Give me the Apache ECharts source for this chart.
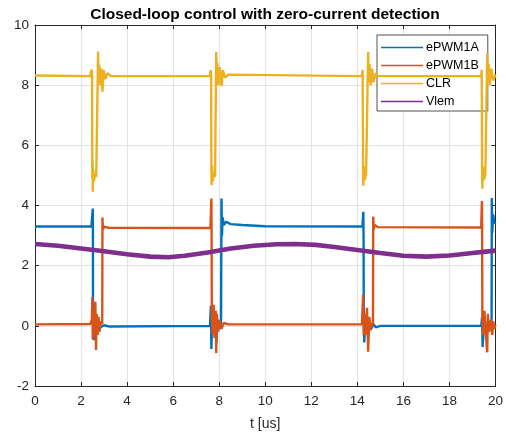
<!DOCTYPE html>
<html>
<head>
<meta charset="utf-8">
<script src="https://cdn.jsdelivr.net/npm/echarts@6/dist/echarts.min.js"></script>
<style>
  html, body { margin: 0; padding: 0; background: #fff; }
  #chart { width: 506px; height: 436px; }
</style>
</head>
<body>
<div id="chart"></div>
<script>
// Oscilloscope capture: time in microseconds, voltages in volts
const xTicks = [0, 2, 4, 6, 8, 10, 12, 14, 16, 18, 20];
const yTicks = [-2, 0, 2, 4, 6, 8, 10];
const seriesNames = ['ePWM1A', 'ePWM1B', 'CLR', 'Vlem'];

const ePWM1A = [
  [0, 3.30], [2.45, 3.30], [2.50, 3.34], [2.51, 3.90], [2.515, 3.20], [2.52, 0.20],
  [2.55, -0.48], [2.58, 0.35], [2.62, -0.30], [2.66, 0.20], [2.70, -0.15], [2.75, 0.10],
  [2.85, -0.05], [3.0, 0.02], [3.2, -0.02], [7.60, 0.0], [7.64, 0.67], [7.66, -0.77],
  [7.70, 0.30], [7.75, -0.20], [7.85, 0.30], [7.88, -0.55], [7.92, 0.15], [8.0, -0.10],
  [8.08, 0.0], [8.10, 4.23], [8.12, 3.00], [8.15, 3.60], [8.20, 3.35], [8.30, 3.46],
  [8.50, 3.38], [9.0, 3.35], [10.0, 3.31], [14.22, 3.30], [14.25, 3.35], [14.26, 3.79],
  [14.27, 3.00], [14.28, 0.30], [14.30, -0.55], [14.34, 0.30], [14.40, -0.20], [14.50, 0.15],
  [14.60, -0.10], [14.70, 0.05], [14.80, -0.05], [15.0, 0.0], [19.38, 0.0], [19.42, 0.30],
  [19.44, -0.70], [19.50, 0.20], [19.55, -0.20], [19.65, 0.10], [19.75, -0.10], [19.83, 0.0],
  [19.84, 4.25], [19.86, 3.10], [19.90, 3.70], [19.95, 3.40], [20, 3.45]
];

const ePWM1B = [
  [0, 0.05], [2.40, 0.06], [2.47, 0.20], [2.49, 0.96], [2.51, -0.45], [2.54, 0.50],
  [2.58, -0.30], [2.62, 0.80], [2.65, -0.80], [2.68, 0.40], [2.72, -0.30], [2.76, 0.30],
  [2.80, -0.20], [2.86, 0.15], [2.92, 0.05], [2.93, 3.60], [2.95, 3.20], [3.0, 3.30],
  [3.2, 3.26], [7.62, 3.25], [7.65, 3.30], [7.66, 4.23], [7.67, 3.00], [7.68, 0.30],
  [7.72, -0.30], [7.76, 0.70], [7.80, -0.40], [7.85, 0.50], [7.87, -0.90], [7.90, 0.40],
  [7.95, -0.20], [8.0, 0.20], [8.1, -0.10], [8.2, 0.10], [8.4, 0.05], [14.20, 0.05],
  [14.25, 1.04], [14.28, -0.30], [14.32, 0.40], [14.36, -0.30], [14.42, 0.60], [14.47, -0.86],
  [14.52, 0.30], [14.58, -0.15], [14.64, 0.10], [14.68, 0.02], [14.69, 3.63], [14.71, 3.20],
  [14.75, 3.35], [14.9, 3.28], [19.38, 3.27], [19.41, 4.15], [19.42, 3.00], [19.43, 0.30],
  [19.47, -0.30], [19.52, 0.50], [19.58, -0.30], [19.64, -0.88], [19.67, 0.40], [19.72, -0.20],
  [19.80, 0.20], [19.86, -0.30], [19.90, 0.15], [19.95, -0.10], [20, 0.05]
];

const CLR = [
  [0, 8.32], [2.40, 8.30], [2.46, 8.52], [2.48, 8.30], [2.49, 4.90], [2.50, 5.50],
  [2.51, 4.46], [2.53, 5.20], [2.56, 4.80], [2.60, 5.05], [2.66, 4.95], [2.72, 5.00],
  [2.74, 9.12], [2.76, 8.20], [2.79, 8.68], [2.83, 8.00], [2.88, 8.55], [2.93, 7.78],
  [2.98, 8.50], [3.05, 8.20], [3.15, 8.40], [3.3, 8.30], [7.60, 8.30], [7.63, 8.50],
  [7.65, 8.30], [7.66, 5.20], [7.67, 4.67], [7.69, 5.33], [7.72, 4.80], [7.76, 5.10],
  [7.82, 4.95], [7.86, 5.00], [7.87, 9.10], [7.89, 8.20], [7.92, 8.75], [7.96, 8.00],
  [8.02, 8.60], [8.10, 7.97], [8.16, 8.50], [8.25, 8.25], [8.4, 8.35], [14.20, 8.30],
  [14.23, 8.50], [14.25, 5.00], [14.26, 4.66], [14.28, 5.30], [14.32, 4.85], [14.38, 5.05],
  [14.46, 5.00], [14.47, 9.10], [14.49, 8.10], [14.53, 8.70], [14.58, 8.00], [14.64, 8.55],
  [14.70, 8.10], [14.8, 8.40], [14.9, 8.30], [19.38, 8.30], [19.40, 8.50], [19.42, 5.00],
  [19.43, 4.56], [19.45, 5.30], [19.50, 4.85], [19.56, 5.05], [19.63, 5.00], [19.64, 9.05],
  [19.66, 8.10], [19.70, 8.70], [19.75, 8.00], [19.82, 8.55], [19.90, 8.15], [20, 8.35]
];

const Vlem = [
  [0, 2.72], [1, 2.66], [2, 2.57], [3, 2.48], [4, 2.38], [5, 2.30], [5.8, 2.28],
  [6.5, 2.33], [7.5, 2.44], [8.5, 2.57], [9.5, 2.66], [10.5, 2.71], [11.3, 2.72],
  [12.2, 2.69], [13, 2.62], [14, 2.52], [15, 2.42], [16, 2.33], [17, 2.30], [18, 2.34],
  [19, 2.42], [20, 2.50]
];

const colors = ['#0072BD', '#D95319', '#EDB120', '#7E2F8E'];
const dataSets = [ePWM1A, ePWM1B, CLR, Vlem];
const widths = [2.4, 2.4, 2.4, 4.6];

const axisColor = '#262626';
const font = 'Liberation Sans, Arial, Helvetica, sans-serif';

const chart = echarts.init(document.getElementById('chart'), null, { renderer: 'canvas' });

const xBase = {
  type: 'value', min: xTicks[0], max: xTicks[xTicks.length - 1], interval: 2,
  axisLine: { show: true, onZero: false, lineStyle: { color: axisColor, width: 1 } },
  axisTick: { show: true, inside: true, length: 4, lineStyle: { color: axisColor } }
};
const yBase = {
  type: 'value', min: yTicks[0], max: yTicks[yTicks.length - 1], interval: 2,
  axisLine: { show: true, onZero: false, lineStyle: { color: axisColor, width: 1 } },
  axisTick: { show: true, inside: true, length: 4, lineStyle: { color: axisColor } }
};

chart.setOption({
  animation: false,
  backgroundColor: '#fff',
  title: {
    text: 'Closed-loop control with zero-current detection',
    left: 260, top: 2, textAlign: 'center',
    textStyle: { fontFamily: font, fontSize: 15.5, fontWeight: 'bold', color: '#000' }
  },
  grid: { left: 35, right: 9, top: 25, bottom: 47, containLabel: false },
  legend: {
    orient: 'vertical', left: 377, top: 35,
    data: seriesNames,
    icon: 'rect',
    backgroundColor: '#fff', borderColor: axisColor, borderWidth: 0.8, borderRadius: 0,
    padding: [6, 9, 3, 4],
    itemWidth: 42, itemHeight: 1.4, itemGap: 5,
    textStyle: { fontFamily: font, fontSize: 12.5, color: '#000', padding: [0, 0, 0, -2] }
  },
  xAxis: [
    Object.assign({}, xBase, {
      position: 'bottom',
      name: 't [us]', nameLocation: 'middle', nameGap: 31,
      nameTextStyle: { fontFamily: font, fontSize: 14, color: axisColor },
      axisLabel: { fontFamily: font, fontSize: 13.5, color: axisColor, margin: 8 },
      splitLine: { show: true, lineStyle: { color: '#e3e3e3', width: 1 } }
    }),
    Object.assign({}, xBase, {
      position: 'top', axisLabel: { show: false }, splitLine: { show: false }
    })
  ],
  yAxis: [
    Object.assign({}, yBase, {
      position: 'left',
      axisLabel: { fontFamily: font, fontSize: 13.5, color: axisColor, margin: 6 },
      splitLine: { show: true, lineStyle: { color: '#e3e3e3', width: 1 } }
    }),
    Object.assign({}, yBase, {
      position: 'right', axisLabel: { show: false }, splitLine: { show: false }
    })
  ],
  series: seriesNames.map((name, i) => ({
    name: name,
    type: 'line',
    xAxisIndex: 0, yAxisIndex: 0,
    data: dataSets[i],
    showSymbol: false, symbol: 'none',
    color: colors[i],
    lineStyle: { color: colors[i], width: widths[i] },
    z: 2 + i
  }))
});
</script>
</body>
</html>
